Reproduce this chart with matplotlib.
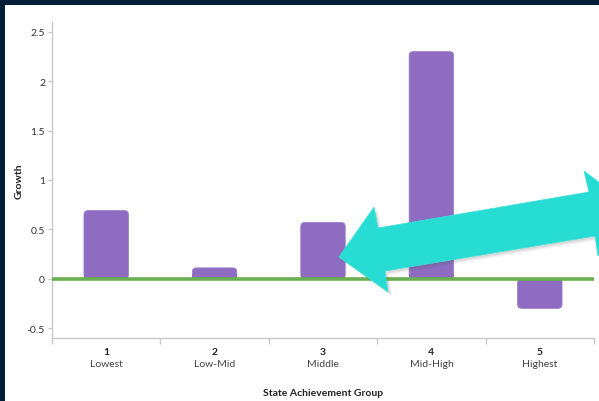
import matplotlib
matplotlib.use("Agg")
import matplotlib.pyplot as plt
from matplotlib.patches import FancyBboxPatch, Rectangle, Polygon

# ---- data ----
groups = ["1", "2", "3", "4", "5"]
group_names = ["Lowest", "Low-Mid", "Middle", "Mid-High", "Highest"]
growth = [0.69, 0.11, 0.57, 2.30, -0.30]
y_ticks = [-0.5, 0, 0.5, 1, 1.5, 2, 2.5]
y_tick_labels = ["-0.5", "0", "0.5", "1", "1.5", "2", "2.5"]

W, H = 599, 402
fig = plt.figure(figsize=(W / 100, H / 100), dpi=100, facecolor="white")
plt.rcParams["font.family"] = ["Lato", "DejaVu Sans"]

L, R, T, B = 52, 594, 23, 339
ax = fig.add_axes([L / W, 1 - B / H, (R - L) / W, (B - T) / H])
ax.set_facecolor("none")
ax.set_xlim(0.5, 5.5)
ax.set_ylim(-0.6, 2.6)

for s in ["top", "right"]:
    ax.spines[s].set_visible(False)
for s in ["left", "bottom"]:
    ax.spines[s].set_color("#c8c8c8")
    ax.spines[s].set_linewidth(1.0)

ax.set_yticks(y_ticks)
ax.set_yticklabels(y_tick_labels)
ax.tick_params(axis="y", length=3, width=1, color="#c8c8c8", pad=2,
               labelsize=7.5, labelcolor="#333333")
ax.set_xticks([0.5 + i for i in range(len(groups) + 1)])
ax.set_xticklabels([])
ax.tick_params(axis="x", length=4, width=1, color="#c8c8c8")

# bars
purple = "#8d6cc1"
bar_w = 0.41
px_x = (R - L) / 5.0   # px per x unit
px_y = (B - T) / 3.2   # px per y unit
rad_px = 4
r = rad_px / px_x
aspect = (rad_px / px_y) / r
xs = list(range(1, len(groups) + 1))
for x, v in zip(xs, growth):
    y0 = min(0, v)
    h = abs(v)
    p = FancyBboxPatch((x - bar_w / 2, y0), bar_w, h,
                       boxstyle=f"round,pad=0,rounding_size={r}",
                       mutation_aspect=aspect, facecolor=purple,
                       edgecolor="#9c80cc", linewidth=0.6, zorder=2)
    ax.add_patch(p)
    # square the corners at the baseline
    hh = min(h / 2, 0.05)
    ys = 0 if v > 0 else -hh
    ax.add_patch(Rectangle((x - bar_w / 2, ys), bar_w, hh, facecolor=purple,
                           edgecolor="none", zorder=2.1))

ax.axhline(0, color="#6aaf4f", linewidth=2.6, zorder=3)

# category labels
for x, g, n in zip(xs, groups, group_names):
    ax.annotate(g, xy=(x, 0), xycoords=("data", "axes fraction"),
                xytext=(0, -14 * 0.72), textcoords="offset points",
                ha="center", va="center", fontsize=7.5, fontweight="bold",
                color="#222222")
    ax.annotate(n, xy=(x, 0), xycoords=("data", "axes fraction"),
                xytext=(0, -26 * 0.72), textcoords="offset points",
                ha="center", va="center", fontsize=7.5, color="#444444")

fig.text((L + R) / 2 / W, 1 - 394 / H, "State Achievement Group", ha="center",
         va="center", fontsize=7.5, fontweight="bold", color="#222222")
fig.text(19 / W, 1 - 181 / H, "Growth", ha="center", va="center", rotation=90,
         fontsize=7.5, fontweight="bold", color="#222222")

# dark frame
navy = "#031f38"
fig.add_artist(Rectangle((0, 1 - 6 / H), 1, 6 / H, transform=fig.transFigure,
                         facecolor=navy, edgecolor="none", zorder=10))
fig.add_artist(Rectangle((0, 0), 5 / W, 1, transform=fig.transFigure,
                         facecolor=navy, edgecolor="none", zorder=10))

# cyan double arrow overlay
arrow_px = [(339, 258), (374, 208), (378, 229), (589, 193), (584, 172),
            (632, 208), (598, 257), (595, 237), (385, 272), (388, 293)]

def to_fig(pts, dx=0, dy=0):
    return [((x + dx) / W, 1 - (y + dy) / H) for x, y in pts]

for k, a in [(4, 0.06), (3, 0.08), (2, 0.10)]:
    fig.add_artist(Polygon(to_fig(arrow_px, k, k), closed=True,
                           transform=fig.transFigure, facecolor="#555555",
                           edgecolor="none", alpha=a, zorder=8))
fig.add_artist(Polygon(to_fig(arrow_px), closed=True, transform=fig.transFigure,
                       facecolor="#27ddd3", edgecolor="#3be0d8", linewidth=0.5,
                       zorder=9))

fig.savefig("out.png", dpi=100, facecolor="white")
